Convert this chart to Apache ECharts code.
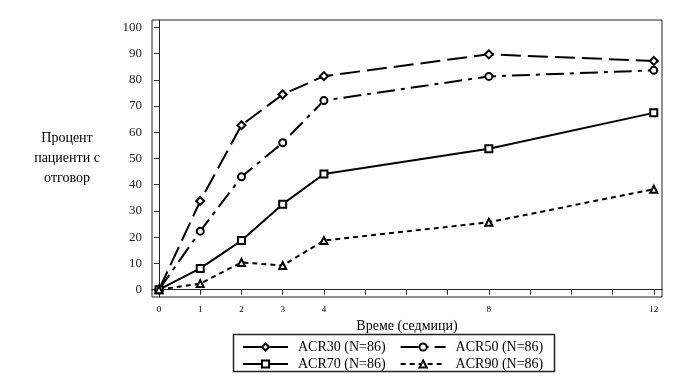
<!DOCTYPE html>
<html><head><meta charset="utf-8">
<script src="https://cdn.jsdelivr.net/npm/echarts@6/dist/echarts.min.js"></script>
<style>html,body{margin:0;padding:0;background:#fff}#c{width:689px;height:384px}</style>
</head><body><div id="c"></div>
<script>
const weeks = [0, 1, 2, 3, 4, 8, 12];
const acr30 = [0, 33.8, 62.7, 74.4, 81.4, 89.7, 87.2];
const acr50 = [0, 22.3, 43.0, 56.0, 72.1, 81.3, 83.6];
const acr70 = [0, 8.1, 18.7, 32.6, 44.1, 53.7, 67.4];
const acr90 = [0, 2.3, 10.4, 9.2, 18.7, 25.7, 38.3];
const seriesNames = ['ACR30 (N=86)', 'ACR50 (N=86)', 'ACR70 (N=86)', 'ACR90 (N=86)'];
const xTicks = [0,1,2,3,4,5,6,7,8,9,10,11,12];
const xLabels = [0,1,2,3,4,8,12];
const yTicks = [0,10,20,30,40,50,60,70,80,90,100];
const yTitle = 'Процент\nпациенти с\nотговор';
const xTitle = 'Време (седмици)';

const FONT = '"Liberation Serif", "DejaVu Serif", serif';
const styles = [
  {type: [20, 7], symbol: 'emptyDiamond', size: 8},
  {type: [18, 6, 4, 6], symbol: 'emptyCircle', size: 7},
  {type: 'solid', symbol: 'emptyRect', size: 7},
  {type: [5, 4], symbol: 'emptyTriangle', size: 7}
];
const dataSets = [acr30, acr50, acr70, acr90];

const chart = echarts.init(document.getElementById('c'));
const legendCommon = {
  itemWidth: 45, itemHeight: 9, itemGap: 14,
  textStyle: {fontFamily: FONT, fontSize: 14, color: '#000', padding: [0, 0, 0, 5]},
  inactiveColor: '#000'
};
chart.setOption({
  backgroundColor: '#fff',
  animation: false,
  grid: {left: 152, right: 27, top: 20, bottom: 87, show: true, borderColor: '#222', borderWidth: 1, backgroundColor: 'transparent'},
  xAxis: {
    type: 'value', min: -0.17, max: 12.2,
    name: xTitle, nameLocation: 'middle', nameGap: 18,
    nameTextStyle: {fontFamily: FONT, fontSize: 14, color: '#000'},
    axisLine: {show: true, lineStyle: {color: '#222', width: 1}},
    axisTick: {show: true, length: 5, lineStyle: {color: '#222'}, customValues: xTicks},
    axisLabel: {fontFamily: FONT, fontSize: 9, color: '#000', margin: 8, customValues: xLabels},
    splitLine: {show: false}
  },
  yAxis: {
    type: 'value', min: -2.8, max: 102.8,
    axisLine: {show: true, lineStyle: {color: '#222', width: 1}},
    axisTick: {show: true, length: 5, lineStyle: {color: '#222'}, customValues: yTicks},
    axisLabel: {fontFamily: FONT, fontSize: 13, color: '#222', margin: 10, customValues: yTicks},
    splitLine: {show: false}
  },
  legend: [
    Object.assign({data: [seriesNames[0], seriesNames[1]], left: 237, top: 335}, legendCommon),
    Object.assign({data: [seriesNames[2], seriesNames[3]], left: 237, top: 352}, legendCommon)
  ],
  graphic: [
    {type: 'rect', shape: {x: 233.5, y: 334.5, width: 321, height: 37}, style: {fill: 'none', stroke: '#222', lineWidth: 1.5}},
    {type: 'text', x: 67, y: 128, style: {text: yTitle, font: '14px ' + FONT, fill: '#000', align: 'center', lineHeight: 20}}
  ],
  series: dataSets.map((d, i) => ({
    name: seriesNames[i], type: 'line',
    data: weeks.map((w, j) => [w, d[j]]),
    symbol: styles[i].symbol, symbolSize: styles[i].size,
    lineStyle: {color: '#000', width: 2, type: styles[i].type},
    itemStyle: {color: '#000', borderColor: '#000', borderWidth: 1},
    z: 2
  }))
});
</script></body></html>
